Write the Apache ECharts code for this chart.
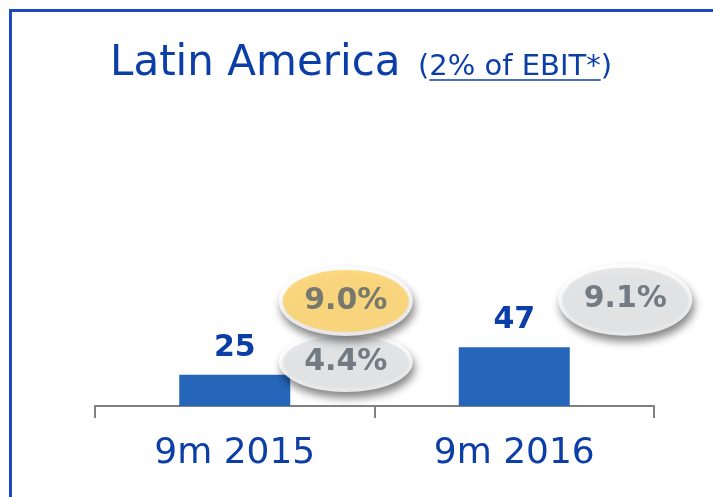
<!DOCTYPE html>
<html>
<head>
<meta charset="utf-8">
<script src="https://cdn.jsdelivr.net/npm/echarts@6/dist/echarts.min.js"></script>
<style>
  html, body { margin: 0; padding: 0; background: #fff; }
  #chart { width: 713px; height: 497px; }
</style>
</head>
<body>
<div id="chart"></div>
<script>
  // data
  var categories = ['9m 2015', '9m 2016'];
  var ebit = [25, 47];             // bars
  var marginGray = [4.4, 9.1];     // grey bubbles
  var marginYellow = [9.0, null];  // yellow bubble, 2015 only

  var blue = '#0b3ea6';
  var font = 'DejaVu Sans, Verdana, sans-serif';

  var chart = echarts.init(document.getElementById('chart'));

  // underline width for the sub title, measured with the same font
  var ctx = document.createElement('canvas').getContext('2d');
  ctx.font = '29px ' + font;
  var subX = 418;
  var parenW = ctx.measureText('(').width;
  var innerW = ctx.measureText('2% of EBIT*').width;

  var bubbleLabel = {
    show: true,
    position: 'inside',
    color: '#56626a',
    fontFamily: font,
    fontWeight: 'bold',
    fontSize: 30,
    formatter: function (p) { return p.value.toFixed(1) + '%'; }
  };

  // each bubble = white rim with shadow underneath + coloured ellipse on top
  function bubble(values, fill, sizeFn, z) {
    var rim = {
      type: 'scatter', yAxisIndex: 1, data: values, symbol: 'circle',
      symbolSize: function (v, p) { var s = sizeFn(p.dataIndex); return [s[0] + 8, s[1] + 8]; },
      symbolOffset: [111, 0],
      itemStyle: {
        color: '#ffffff',
        shadowColor: 'rgba(0,0,0,0.6)', shadowBlur: 9, shadowOffsetX: 2, shadowOffsetY: 6
      },
      silent: true, z: z
    };
    var body = {
      type: 'scatter', yAxisIndex: 1, data: values, symbol: 'circle',
      symbolSize: function (v, p) { return sizeFn(p.dataIndex); },
      symbolOffset: [111, 0],
      itemStyle: { color: fill },
      label: bubbleLabel,
      z: z + 1
    };
    return [rim, body];
  }

  var option = {
    animation: false,
    grid: { left: 95, right: 59, top: 100, bottom: 91 },
    xAxis: {
      type: 'category',
      data: categories,
      axisLine: { lineStyle: { color: '#808080', width: 2 } },
      axisTick: { show: true, length: 12, lineStyle: { color: '#808080', width: 2 } },
      axisLabel: { color: blue, fontFamily: font, fontSize: 36, margin: 30 }
    },
    yAxis: [
      { type: 'value', min: 0, max: 245, show: false },
      { type: 'value', min: 1.082, max: 24.16, show: false }
    ],
    graphic: [
      {
        type: 'rect', left: 8, top: 8, silent: true,
        shape: { width: 800, height: 600 },
        style: { fill: null, stroke: '#1c4bbd', lineWidth: 3 }
      },
      {
        type: 'text', x: 110, y: 64,
        style: { text: 'Latin America', fill: blue, font: '42px ' + font, verticalAlign: 'middle' }
      },
      {
        type: 'text', x: subX, y: 67,
        style: { text: '(2% of EBIT*)', fill: blue, font: '29px ' + font, verticalAlign: 'middle' }
      },
      {
        type: 'line',
        shape: { x1: subX + parenW, y1: 80, x2: subX + parenW + innerW, y2: 80 },
        style: { stroke: blue, lineWidth: 1.5 }
      }
    ],
    series: [
      {
        type: 'bar',
        data: ebit,
        barWidth: 111,
        itemStyle: { color: '#2566b8' },
        label: {
          show: true, position: 'top', distance: 12,
          color: blue, fontFamily: font, fontWeight: 'bold', fontSize: 30
        }
      }
    ]
      .concat(bubble(marginGray, '#e0e1e3', function (i) { return i === 0 ? [126, 52] : [126, 64]; }, 3))
      .concat(bubble(marginYellow, '#fdd062', function () { return [126, 62]; }, 5))
  };

  chart.setOption(option);
</script>
</body>
</html>
